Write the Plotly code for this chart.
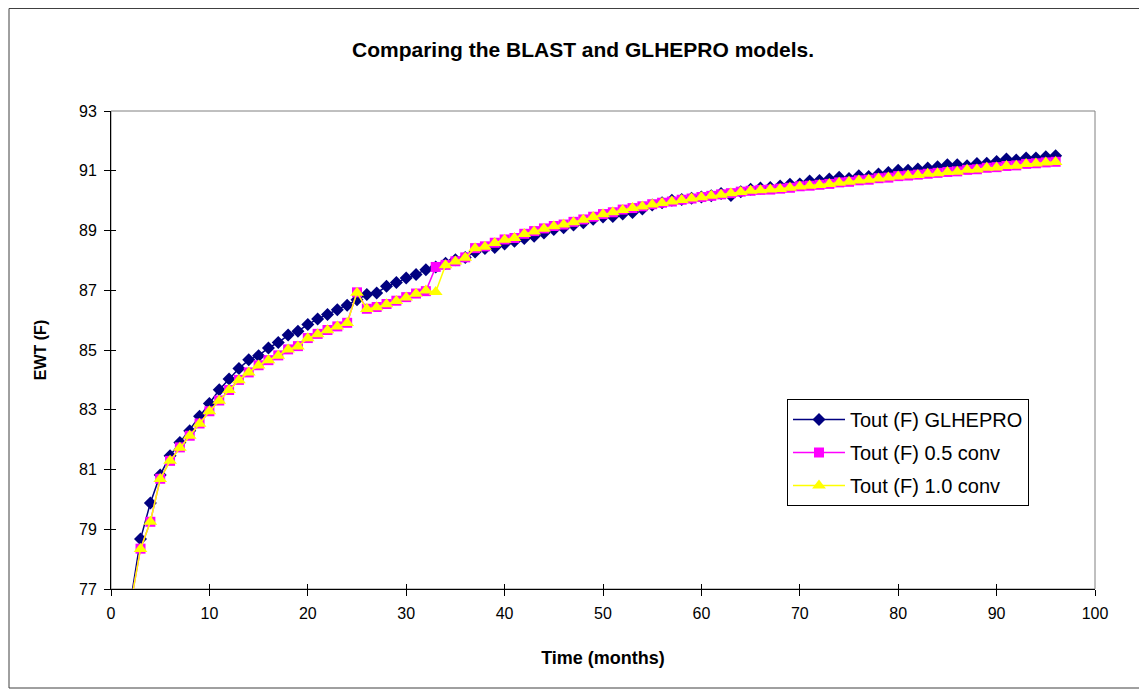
import plotly.graph_objects as go

# ---------------- data ----------------
months = list(range(2, 97))

tout_glhepro = [
    76.60, 78.67, 79.88, 80.82, 81.46, 81.90, 82.30, 82.78, 83.21, 83.67,
    84.03, 84.38, 84.67, 84.81, 85.07, 85.25, 85.50, 85.63, 85.85, 86.04,
    86.19, 86.35, 86.50, 86.68, 86.86, 86.91, 87.13, 87.26, 87.41, 87.53,
    87.69, 87.78, 87.90, 88.02, 88.10, 88.28, 88.40, 88.43, 88.55, 88.64,
    88.73, 88.81, 88.92, 89.03, 89.09, 89.18, 89.26, 89.38, 89.45, 89.47,
    89.55, 89.60, 89.72, 89.85, 89.93, 90.01, 90.04, 90.08, 90.12, 90.16,
    90.24, 90.17, 90.30, 90.38, 90.42, 90.44, 90.49, 90.55, 90.56, 90.66,
    90.67, 90.72, 90.78, 90.74, 90.83, 90.81, 90.89, 90.94, 91.02, 91.02,
    91.06, 91.09, 91.13, 91.20, 91.20, 91.17, 91.24, 91.25, 91.31, 91.39,
    91.36, 91.43, 91.43, 91.47, 91.50,
]

tout_05_conv = [
    76.50, 78.35, 79.25, 80.69, 81.29, 81.74, 82.13, 82.54, 82.95, 83.31,
    83.66, 84.00, 84.25, 84.49, 84.66, 84.82, 85.02, 85.13, 85.40, 85.54,
    85.67, 85.79, 85.91, 86.93, 86.38, 86.44, 86.54, 86.65, 86.77, 86.89,
    86.97, 87.78, 87.85, 87.97, 88.10, 88.41, 88.47, 88.59, 88.70, 88.75,
    88.89, 88.98, 89.07, 89.15, 89.20, 89.29, 89.37, 89.46, 89.55, 89.61,
    89.70, 89.75, 89.81, 89.88, 89.93, 89.97, 90.03, 90.07, 90.12, 90.16,
    90.21, 90.25, 90.30, 90.33, 90.36, 90.37, 90.40, 90.43, 90.48, 90.50,
    90.53, 90.56, 90.61, 90.63, 90.68, 90.70, 90.75, 90.77, 90.82, 90.84,
    90.87, 90.90, 90.93, 90.96, 90.98, 91.03, 91.05, 91.10, 91.12, 91.16,
    91.18, 91.23, 91.25, 91.28, 91.30,
]

tout_10_conv = [
    76.50, 78.34, 79.25, 80.68, 81.29, 81.73, 82.13, 82.53, 82.95, 83.30,
    83.66, 83.99, 84.25, 84.48, 84.66, 84.81, 85.02, 85.12, 85.39, 85.53,
    85.66, 85.79, 85.90, 86.92, 86.37, 86.43, 86.53, 86.64, 86.76, 86.88,
    86.99, 86.94, 87.84, 87.96, 88.09, 88.41, 88.46, 88.58, 88.69, 88.75,
    88.88, 88.97, 89.06, 89.14, 89.20, 89.28, 89.36, 89.45, 89.54, 89.61,
    89.69, 89.75, 89.80, 89.87, 89.92, 89.97, 90.02, 90.07, 90.11, 90.16,
    90.20, 90.25, 90.29, 90.33, 90.35, 90.37, 90.39, 90.43, 90.47, 90.50,
    90.52, 90.56, 90.60, 90.63, 90.67, 90.70, 90.74, 90.77, 90.81, 90.84,
    90.86, 90.90, 90.92, 90.96, 90.97, 91.03, 91.04, 91.10, 91.11, 91.16,
    91.17, 91.23, 91.24, 91.28, 91.29,
]

series_names = ["Tout (F) GLHEPRO", "Tout (F) 0.5 conv", "Tout (F) 1.0 conv"]
x_ticks = [0, 10, 20, 30, 40, 50, 60, 70, 80, 90, 100]
y_ticks = [77, 79, 81, 83, 85, 87, 89, 91, 93]

# ---------------- layout geometry ----------------
# The page body adds an ~8px offset, so figure coordinates = screen - OFF.
W, H = 1147, 690
OFF = 8
SCR_LEFT, SCR_RIGHT, SCR_TOP, SCR_BOTTOM = 111, 1095, 111, 589
L = SCR_LEFT - OFF
T = SCR_TOP - OFF
R = W - (SCR_RIGHT - OFF)
B = H - (SCR_BOTTOM - OFF)
PW, PH = W - L - R, H - T - B

FONT = "Liberation Sans, Arial, sans-serif"


def sx(px):
    """screen x pixel -> paper x"""
    return (px - OFF - L) / PW


def sy(py):
    """screen y pixel -> paper y"""
    return (H - B - (py - OFF)) / PH


fig = go.Figure()

styles = [
    dict(color="#000080", symbol="diamond", size=10),
    dict(color="#FF00FF", symbol="square", size=10),
    dict(color="#FFFF00", symbol="triangle-up", size=12),
]
for name, vals, st, grp in zip(series_names,
                               [tout_glhepro, tout_05_conv, tout_10_conv],
                               styles, ["g1", "g2", "g3"]):
    fig.add_trace(go.Scatter(
        x=months, y=vals, name=name, mode="lines+markers",
        legendgroup=grp,
        line=dict(color=st["color"], width=1.5),
        marker=dict(color=st["color"], symbol=st["symbol"], size=st["size"],
                    line=dict(width=0)),
    ))

# helper trace for overlay axes (inside tick marks -> "cross" ticks)
fig.add_trace(go.Scatter(x=[], y=[], xaxis="x2", yaxis="y2",
                         showlegend=False, hoverinfo="skip"))

axis_common = dict(showgrid=False, zeroline=False, showline=True,
                   linecolor="black", linewidth=1, ticks="outside",
                   ticklen=6, tickcolor="black", tickwidth=1,
                   ticklabelstandoff=4,
                   tickfont=dict(family=FONT, size=16, color="black"))

fig.update_layout(
    width=W, height=H,
    margin=dict(l=L, r=R, t=T, b=B, pad=0),
    paper_bgcolor="white", plot_bgcolor="white",
    font=dict(family=FONT, color="black"),
    title=dict(text="<b>Comparing the BLAST and GLHEPRO models.</b>",
               x=(583 - OFF) / W, xref="container", xanchor="center",
               y=1 - (50 - OFF) / H, yref="container", yanchor="middle",
               font=dict(family=FONT, size=21, color="black")),
    xaxis=dict(range=[0, 100], tickvals=x_ticks,
               title=dict(text="<b>Time (months)</b>", standoff=30,
                          font=dict(family=FONT, size=18, color="black")),
               **axis_common),
    yaxis=dict(range=[77, 93], tickvals=y_ticks,
               title=dict(text="<b>EWT (F)</b>", standoff=28,
                          font=dict(family=FONT, size=16, color="black")),
               **axis_common),
    xaxis2=dict(range=[0, 100], tickvals=x_ticks, overlaying="x", anchor="y2",
                side="bottom", showticklabels=False, showgrid=False,
                zeroline=False, showline=False, ticks="inside", ticklen=5,
                tickcolor="black", tickwidth=1),
    yaxis2=dict(range=[77, 93], tickvals=y_ticks, overlaying="y", anchor="x2",
                side="left", showticklabels=False, showgrid=False,
                zeroline=False, showline=False, ticks="inside", ticklen=5,
                tickcolor="black", tickwidth=1),
    legend=dict(x=sx(787), y=sy(399),
                xanchor="left", yanchor="top",
                bgcolor="white", bordercolor="black", borderwidth=1,
                font=dict(family=FONT, size=20, color="black"),
                traceorder="grouped", tracegroupgap=4, itemwidth=52),
    showlegend=True,
    shapes=[
        # plot-area frame (gray)
        dict(type="rect", xref="paper", yref="paper", x0=0, x1=1, y0=0, y1=1,
             line=dict(color="#808080", width=1), layer="below"),
        # outer chart frame
        dict(type="rect", xref="paper", yref="paper",
             x0=sx(9), x1=sx(1145), y0=sy(688), y1=sy(8.5),
             line=dict(color="#404040", width=1), layer="below"),
    ],
)

fig.write_html("out.html")
